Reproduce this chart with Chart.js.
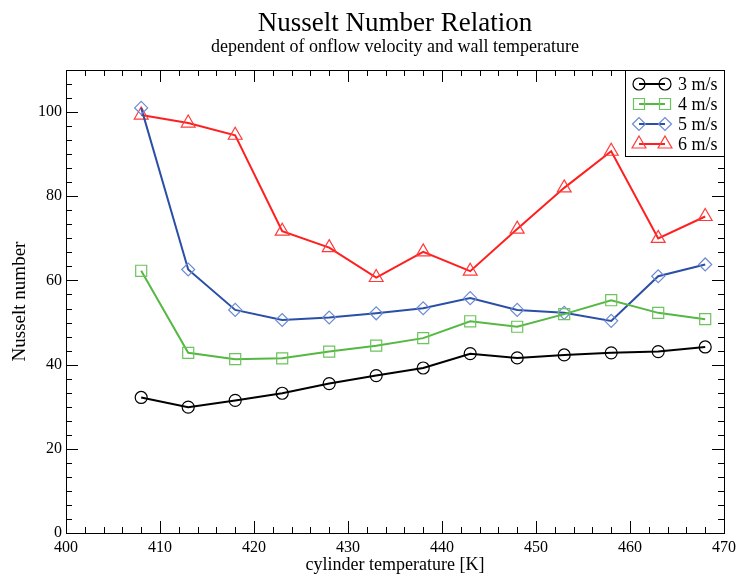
<!DOCTYPE html>
<html>
<head>
<meta charset="utf-8">
<script src="https://cdn.jsdelivr.net/npm/chart.js@4.4.1/dist/chart.umd.min.js"></script>
<style>
  html, body { margin: 0; padding: 0; background: #fff; }
</style>
</head>
<body>
<canvas id="nusselt-chart" width="741" height="576"></canvas>
<script>
// cylinder temperature [K]
var temps = [408, 413, 418, 423, 428, 433, 438, 443, 448, 453, 458, 463, 468];
// Nusselt number per onflow velocity
var nu3 = [32.2, 29.9, 31.5, 33.2, 35.5, 37.4, 39.2, 42.6, 41.6, 42.3, 42.8, 43.1, 44.2];
var nu4 = [62.3, 42.8, 41.3, 41.5, 43.1, 44.5, 46.3, 50.3, 49.0, 52.0, 55.3, 52.3, 50.8];
var nu5 = [101.0, 62.6, 53.0, 50.6, 51.2, 52.2, 53.4, 55.8, 53.0, 52.3, 50.4, 61.0, 63.8];
var nu6 = [99.3, 97.4, 94.5, 71.7, 67.8, 60.7, 66.8, 62.2, 72.2, 82.0, 90.7, 70.0, 75.2];
var seriesNames = ["3 m/s", "4 m/s", "5 m/s", "6 m/s"];

var xMin = 400, xMax = 470, xStep = 10, xMinor = 2;
var yMin = 0, yMax = 110, yStep = 20, yMinorCount = 6;

var serif = "'Liberation Serif', 'DejaVu Serif', serif";
Chart.defaults.font.family = serif;
Chart.defaults.color = "#000";

function pts(values) {
    return temps.map(function (t, i) { return { x: t, y: values[i] }; });
}

// titles centred over the plot area
var titlePlugin = {
    id: "titles",
    afterDraw: function (chart) {
        var ctx = chart.ctx, a = chart.chartArea;
        var cx = (a.left + a.right) / 2;
        ctx.save();
        ctx.fillStyle = "#000";
        ctx.textAlign = "center";
        ctx.textBaseline = "alphabetic";
        ctx.font = "27px " + serif;
        ctx.fillText("Nusselt Number Relation", cx, 31);
        ctx.font = "18px " + serif;
        ctx.fillText("dependent of onflow velocity and wall temperature", cx, 52);
        ctx.restore();
    }
};

// frame + inward ticks on all four sides, legend box
var framePlugin = {
    id: "frame",
    afterDatasetsDraw: function (chart) {
        var ctx = chart.ctx, a = chart.chartArea;
        var xs = chart.scales.x, ys = chart.scales.y;
        var major = 12, minor = 6;
        ctx.save();
        ctx.strokeStyle = "#000";
        ctx.lineWidth = 1;
        ctx.beginPath();
        var v, px, len;
        for (v = xMin; v <= xMax + 0.001; v += xMinor) {
            if (v === xMin || v >= xMax) continue;
            px = Math.round(xs.getPixelForValue(v)) + 0.5;
            len = (v % xStep === 0) ? major : minor;
            ctx.moveTo(px, a.bottom); ctx.lineTo(px, a.bottom - len);
            ctx.moveTo(px, a.top); ctx.lineTo(px, a.top + len);
        }
        var ys2 = yStep / yMinorCount;
        for (var k = 1; k * ys2 < yMax - 0.001; k++) {
            v = k * ys2;
            px = Math.round(ys.getPixelForValue(v)) + 0.5;
            len = (k % yMinorCount === 0) ? major : minor;
            ctx.moveTo(a.left, px); ctx.lineTo(a.left + len, px);
            ctx.moveTo(a.right, px); ctx.lineTo(a.right - len, px);
        }
        ctx.stroke();
        ctx.strokeRect(Math.round(a.left) + 0.5, Math.round(a.top) + 0.5,
                       Math.round(a.right - a.left), Math.round(a.bottom - a.top));
        ctx.restore();
    },
    afterDraw: function (chart) {
        var ctx = chart.ctx, a = chart.chartArea;
        var w = 99, h = 86;
        var bx = Math.round(a.right) - w, by = Math.round(a.top);
        ctx.save();
        ctx.fillStyle = "#fff";
        ctx.fillRect(bx, by, w, h);
        ctx.strokeStyle = "#000";
        ctx.lineWidth = 1;
        ctx.strokeRect(bx + 0.5, by + 0.5, w, h);
        chart.data.datasets.forEach(function (ds, i) {
            var y = by + 14 + i * 20;
            var x1 = bx + 14, x2 = bx + 40;
            ctx.strokeStyle = ds.borderColor;
            ctx.lineWidth = 2;
            ctx.beginPath();
            ctx.moveTo(x1, y); ctx.lineTo(x2, y);
            ctx.stroke();
            ctx.strokeStyle = ds.pointBorderColor;
            ctx.fillStyle = "rgba(255,255,255,0)";
            ctx.lineWidth = ds.pointBorderWidth;
            var opts = { pointStyle: ds.pointStyle, radius: ds.pointRadius, rotation: 0, borderWidth: ds.pointBorderWidth };
            Chart.helpers.drawPoint(ctx, opts, x1, y);
            Chart.helpers.drawPoint(ctx, opts, x2, y);
            ctx.fillStyle = "#000";
            ctx.font = "18px " + serif;
            ctx.textAlign = "left";
            ctx.textBaseline = "middle";
            ctx.fillText(ds.label, bx + 53, y + 1);
        });
        ctx.restore();
    }
};

new Chart(document.getElementById("nusselt-chart"), {
    type: "line",
    data: {
        datasets: [{
            label: seriesNames[0],
            data: pts(nu3),
            borderColor: "#000000",
            pointBorderColor: "#000000",
            pointStyle: "circle",
            pointRadius: 6,
        }, {
            label: seriesNames[1],
            data: pts(nu4),
            borderColor: "#55b843",
            pointBorderColor: "#6cc45c",
            pointStyle: "rect",
            pointRadius: 7.8,
        }, {
            label: seriesNames[2],
            data: pts(nu5),
            borderColor: "#2b4fa6",
            pointBorderColor: "#6c8bd4",
            pointStyle: "rectRot",
            pointRadius: 6.5,
        }, {
            label: seriesNames[3],
            data: pts(nu6),
            borderColor: "#ff1f1f",
            pointBorderColor: "#ff3a3a",
            pointStyle: "triangle",
            pointRadius: 8,
        }].map(function (ds) {
            ds.borderWidth = 2;
            ds.pointBorderWidth = 1.2;
            ds.pointBackgroundColor = "rgba(255,255,255,0)";
            ds.pointHoverRadius = ds.pointRadius;
            ds.fill = false;
            ds.tension = 0;
            return ds;
        })
    },
    options: {
        responsive: false,
        animation: false,
        layout: { padding: { top: 70, right: 14, left: 0, bottom: 0 } },
        plugins: {
            legend: { display: false },
            tooltip: { enabled: false },
            title: { display: false }
        },
        scales: {
            x: {
                type: "linear",
                min: xMin, max: xMax,
                grid: { display: false, drawTicks: false },
                border: { display: false },
                ticks: { stepSize: xStep, padding: 5, font: { size: 16 }, maxRotation: 0 },
                title: { display: true, text: "cylinder temperature [K]", font: { size: 18 }, padding: { top: 0, bottom: 0 } },
                afterFit: function (s) { s.height = 43; }
            },
            y: {
                min: yMin, max: yMax,
                grid: { display: false, drawTicks: false },
                border: { display: false },
                ticks: { stepSize: yStep, padding: 4, font: { size: 16 } },
                afterBuildTicks: function (s) {
                    s.ticks = s.ticks.filter(function (t) { return t.value % yStep === 0; });
                },
                title: { display: true, text: "Nusselt number", font: { size: 19 }, padding: { top: 9, bottom: 0 } },
                afterFit: function (s) { s.width = 66; }
            }
        }
    },
    plugins: [titlePlugin, framePlugin]
});
</script>
</body>
</html>
